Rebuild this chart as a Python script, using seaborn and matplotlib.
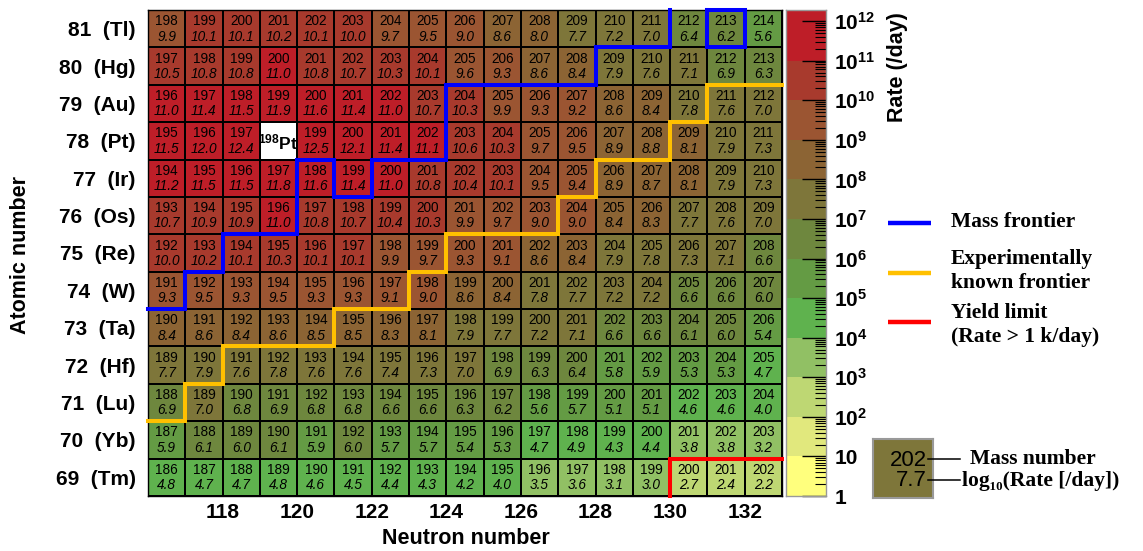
import numpy as np
import pandas as pd
import matplotlib
matplotlib.use("Agg")
import matplotlib.pyplot as plt
import seaborn as sns
from matplotlib.colors import ListedColormap, BoundaryNorm
from matplotlib.lines import Line2D
from matplotlib.ticker import FixedLocator

# ---------------- data ----------------
neutron_numbers = list(range(117, 134))
atomic_numbers = [81, 80, 79, 78, 77, 76, 75, 74, 73, 72, 71, 70, 69]
element_symbols = ["Tl", "Hg", "Au", "Pt", "Ir", "Os", "Re", "W", "Ta", "Hf", "Lu", "Yb", "Tm"]

log_rate_Tl = [9.9, 10.1, 10.1, 10.2, 10.1, 10.0, 9.7, 9.5, 9.0, 8.6, 8.0, 7.7, 7.2, 7.0, 6.4, 6.2, 5.6]
log_rate_Hg = [10.5, 10.8, 10.8, 11.0, 10.8, 10.7, 10.3, 10.1, 9.6, 9.3, 8.6, 8.4, 7.9, 7.6, 7.1, 6.9, 6.3]
log_rate_Au = [11.0, 11.4, 11.5, 11.9, 11.6, 11.4, 11.0, 10.7, 10.3, 9.9, 9.3, 9.2, 8.6, 8.4, 7.8, 7.6, 7.0]
log_rate_Pt = [11.5, 12.0, 12.4, np.nan, 12.5, 12.1, 11.4, 11.1, 10.6, 10.3, 9.7, 9.5, 8.9, 8.8, 8.1, 7.9, 7.3]
log_rate_Ir = [11.2, 11.5, 11.5, 11.8, 11.6, 11.4, 11.0, 10.8, 10.4, 10.1, 9.5, 9.4, 8.9, 8.7, 8.1, 7.9, 7.3]
log_rate_Os = [10.7, 10.9, 10.9, 11.0, 10.8, 10.7, 10.4, 10.3, 9.9, 9.7, 9.0, 9.0, 8.4, 8.3, 7.7, 7.6, 7.0]
log_rate_Re = [10.0, 10.2, 10.1, 10.3, 10.1, 10.1, 9.9, 9.7, 9.3, 9.1, 8.6, 8.4, 7.9, 7.8, 7.3, 7.1, 6.6]
log_rate_W = [9.3, 9.5, 9.3, 9.5, 9.3, 9.3, 9.1, 9.0, 8.6, 8.4, 7.8, 7.7, 7.2, 7.2, 6.6, 6.6, 6.0]
log_rate_Ta = [8.4, 8.6, 8.4, 8.6, 8.5, 8.5, 8.3, 8.1, 7.9, 7.7, 7.2, 7.1, 6.6, 6.6, 6.1, 6.0, 5.4]
log_rate_Hf = [7.7, 7.9, 7.6, 7.8, 7.6, 7.6, 7.4, 7.3, 7.0, 6.9, 6.3, 6.4, 5.8, 5.9, 5.3, 5.3, 4.7]
log_rate_Lu = [6.9, 7.0, 6.8, 6.9, 6.8, 6.8, 6.6, 6.6, 6.3, 6.2, 5.6, 5.7, 5.1, 5.1, 4.6, 4.6, 4.0]
log_rate_Yb = [5.9, 6.1, 6.0, 6.1, 5.9, 6.0, 5.7, 5.7, 5.4, 5.3, 4.7, 4.9, 4.3, 4.4, 3.8, 3.8, 3.2]
log_rate_Tm = [4.8, 4.7, 4.7, 4.8, 4.6, 4.5, 4.4, 4.3, 4.2, 4.0, 3.5, 3.6, 3.1, 3.0, 2.7, 2.4, 2.2]

x_tick_values = [118, 120, 122, 124, 126, 128, 130, 132]
cbar_decades = list(range(0, 13))
cbar_top = 12.28
band_colors = ["#FFFF7D", "#E1E87D", "#BED773", "#91C064", "#5FB24E", "#649B44",
               "#6E873E", "#7E763A", "#8C6434", "#9B5532", "#A83A2D", "#BE1E28"]

# frontier paths (cell edges, in N / Z units)
mass_frontier_N = [116.5, 117.5, 117.5, 118.5, 118.5, 120.5, 120.5, 121.5, 121.5, 122.5, 122.5,
                   124.5, 124.5, 128.5, 128.5, 130.5, 130.5]
mass_frontier_Z = [73.5, 73.5, 74.5, 74.5, 75.5, 75.5, 77.5, 77.5, 76.5, 76.5, 77.5,
                   77.5, 79.5, 79.5, 80.5, 80.5, 81.5]
mass_box_N = [131.5, 132.5, 132.5, 131.5, 131.5]
mass_box_Z = [81.5, 81.5, 80.5, 80.5, 81.5]
exp_frontier_N = [116.5, 117.5, 117.5, 118.5, 118.5, 121.5, 121.5, 123.5, 123.5, 124.5, 124.5,
                  127.5, 127.5, 128.5, 128.5, 130.5, 130.5, 131.5, 131.5, 133.5]
exp_frontier_Z = [70.5, 70.5, 71.5, 71.5, 72.5, 72.5, 73.5, 73.5, 74.5, 74.5, 75.5,
                  75.5, 76.5, 76.5, 77.5, 77.5, 78.5, 78.5, 79.5, 79.5]
yield_limit_N = [130.5, 130.5, 133.5]
yield_limit_Z = [68.5, 69.5, 69.5]

# ---------------- style ----------------
plt.rcParams["font.family"] = ["Liberation Sans", "DejaVu Sans"]
plt.rcParams["mathtext.fontset"] = "custom"
plt.rcParams["mathtext.rm"] = "Liberation Sans"
plt.rcParams["mathtext.bf"] = "Liberation Sans:bold"
plt.rcParams["mathtext.it"] = "Liberation Sans:italic"

W, H = 1143, 551
fig = plt.figure(figsize=(W / 100, H / 100), dpi=100)


def fx(px):
    return px / W


def fy(py):
    return 1 - py / H


rows = [log_rate_Tl, log_rate_Hg, log_rate_Au, log_rate_Pt, log_rate_Ir, log_rate_Os, log_rate_Re,
        log_rate_W, log_rate_Ta, log_rate_Hf, log_rate_Lu, log_rate_Yb, log_rate_Tm]
df = pd.DataFrame(rows, index=atomic_numbers, columns=neutron_numbers)

cmap = ListedColormap(band_colors)
cmap.set_over(band_colors[-1])
cmap.set_bad("white")
norm = BoundaryNorm(cbar_decades, len(band_colors))

ax = fig.add_axes([fx(148), fy(496), fx(634), 486 / H])
ax.set_facecolor("white")
sns.heatmap(df, ax=ax, cmap=cmap, norm=norm, cbar=False, linewidths=1.1,
            linecolor="black", xticklabels=False, yticklabels=False)

nz, nn = df.shape
ax.set_xlim(0, nn)
ax.set_ylim(nz, 0)


def xe(n):
    return np.asarray(n) - neutron_numbers[0] + 0.5


def ye(z):
    return atomic_numbers[0] + 0.5 - np.asarray(z)


# cell annotations
for r, z in enumerate(atomic_numbers):
    for c, n in enumerate(neutron_numbers):
        v = df.loc[z, n]
        if np.isnan(v):
            ax.text(c + 0.5, r + 0.55, r"$^{\mathbf{%d}}$Pt" % (z + n), ha="center", va="center",
                    fontsize=12.5, fontweight="bold", color="black")
            continue
        ax.text(c + 0.5, r + 0.30, f"{z + n}", ha="center", va="center", fontsize=9.8, color="black")
        ax.text(c + 0.5, r + 0.71, f"{v:.1f}", ha="center", va="center", fontsize=9.8,
                style="italic", color="black")

# frontiers
lkw = dict(lw=2.9, clip_on=False, solid_joinstyle="miter", solid_capstyle="projecting", zorder=5)
ax.plot(xe(exp_frontier_N), ye(exp_frontier_Z), color="#FFC000", **lkw)
ax.plot(xe(mass_frontier_N), ye(mass_frontier_Z), color="#0000FF", **lkw)
ax.plot(xe(mass_box_N), ye(mass_box_Z), color="#0000FF", **lkw)
ax.plot(xe(yield_limit_N), ye(yield_limit_Z), color="#FF0000", **lkw)

for s in ax.spines.values():
    s.set_visible(True)
    s.set_color("black")
    s.set_linewidth(1.0)

ax.set_xticks(xe(x_tick_values) + 0.5)
ax.set_xticklabels([str(t) for t in x_tick_values])
ax.set_yticks(np.arange(nz) + 0.5)
ax.set_yticklabels([f"{z}  ({s})" for z, s in zip(atomic_numbers, element_symbols)])
ax.tick_params(axis="both", length=0, labelsize=15)
ax.tick_params(axis="x", pad=5)
ax.tick_params(axis="y", pad=9, rotation=0)
for lab in ax.get_xticklabels() + ax.get_yticklabels():
    lab.set_fontweight("bold")
ax.set_xlabel("")
ax.set_ylabel("")

fig.text(fx(21), fy(255), "Atomic number", rotation=90, ha="center", va="center",
         fontsize=15.5, fontweight="bold")
fig.text(fx(466), fy(538), "Neutron number", ha="center", va="center",
         fontsize=15.5, fontweight="bold")

# ---------------- colour bar ----------------
cax = fig.add_axes([fx(786), fy(496), fx(40), 486 / H])
bounds = cbar_decades + [cbar_top]
for i in range(len(bounds) - 1):
    cax.axhspan(bounds[i], bounds[i + 1], color=band_colors[min(i, len(band_colors) - 1)], lw=0)
cax.set_ylim(0, cbar_top)
cax.set_xlim(0, 1)
cax.set_xticks([])
cax.yaxis.tick_right()
cax.set_yticks(cbar_decades)
cb_labels = ["1", "10"] + [r"$\mathbf{10^{%d}}$" % d for d in cbar_decades[2:]]
cax.set_yticklabels(cb_labels)
minor = [d + np.log10(k) for d in cbar_decades for k in range(2, 10) if d + np.log10(k) < cbar_top]
cax.yaxis.set_minor_locator(FixedLocator(minor))
cax.tick_params(axis="y", which="major", direction="in", length=17, width=1.0,
                labelsize=15, pad=6, left=False, right=True)
cax.tick_params(axis="y", which="minor", direction="in", length=8, width=0.8,
                left=False, right=True)
for lab in cax.get_yticklabels():
    lab.set_fontweight("bold")
for s in cax.spines.values():
    s.set_color("#999999")
    s.set_linewidth(1.0)

fig.text(fx(898), fy(67), "Rate (/day)", rotation=90, ha="center", va="center",
         fontsize=15.5, fontweight="bold")

# ---------------- legend ----------------
serif = ["Liberation Serif", "DejaVu Serif"]
leg = [("#0000FF", 223, "Mass frontier", 222),
       ("#FFC000", 273, "Experimentally\nknown frontier", 271),
       ("#FF0000", 322, "Yield limit\n(Rate > 1 k/day)", 325)]
for col, ly, txt, ty in leg:
    fig.add_artist(Line2D([fx(888), fx(931)], [fy(ly), fy(ly)], color=col, lw=3.2,
                          solid_capstyle="butt"))
    fig.text(fx(951), fy(ty), txt, ha="left", va="center", fontsize=15.5,
             fontweight="bold", family=serif, linespacing=1.3)

# sample cell
kax = fig.add_axes([fx(873), fy(498), fx(60), 59 / H])
kax.set_facecolor(band_colors[7])
kax.set_xticks([])
kax.set_yticks([])
for s in kax.spines.values():
    s.set_color("#999999")
    s.set_linewidth(1.5)
fig.text(fx(927), fy(460), "202", ha="right", va="center", fontsize=16)
fig.text(fx(927), fy(481), "7.7", ha="right", va="center", fontsize=16)
fig.add_artist(Line2D([fx(928), fx(960)], [fy(459), fy(459)], color="black", lw=1.1))
fig.add_artist(Line2D([fx(928), fx(960)], [fy(480), fy(480)], color="black", lw=1.1))
fig.text(fx(970), fy(459), "Mass number", ha="left", va="center", fontsize=15.5,
         fontweight="bold", family=serif)
fig.text(fx(962), fy(481), "log\u2081\u2080(Rate [/day])", ha="left", va="center", fontsize=15.5,
         fontweight="bold", family=serif)

fig.savefig("out.png", dpi=100)
